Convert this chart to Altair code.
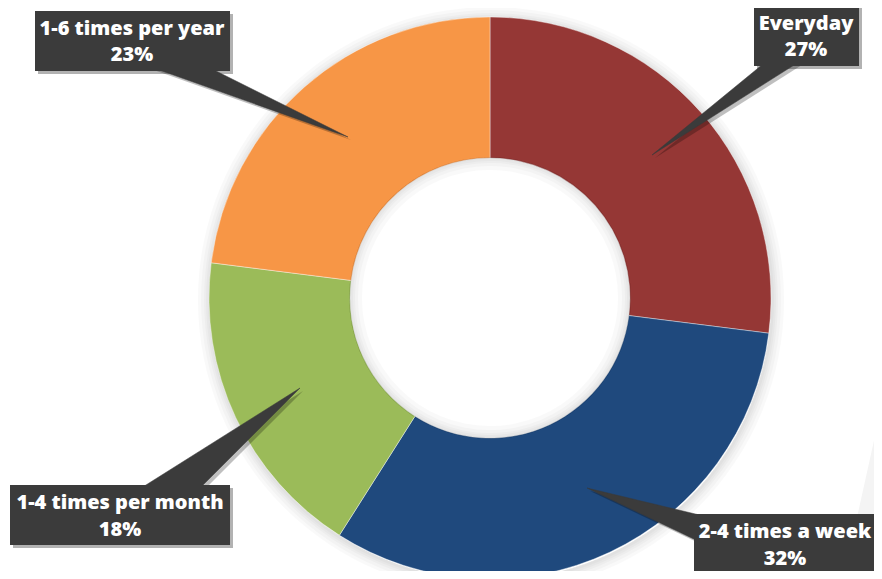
import math
import altair as alt
import pandas as pd

# ---- data ----
categories = ["Everyday", "2-4 times a week", "1-4 times per month", "1-6 times per year"]
shares = [27, 32, 18, 23]
colors = ["#953735", "#1f497d", "#9bbb59", "#f79646"]

# ---- layout (screen pixels of the 882x579 page) ----
OFF = 8
W, H = 866, 563
CX, CY = 490, 298
R_OUT, R_IN = 281, 140
BOX_FILL = "#3b3b3b"

box_layout = {
    "Everyday":            dict(x=754, x2=859, y=5,   y2=66,  tx=806, ty=(24, 50),
                                tri=[(652, 155), (768, 60), (802, 60)]),
    "2-4 times a week":    dict(x=694, x2=884, y=514, y2=590, tx=785, ty=(532, 559),
                                tri=[(587, 488), (712, 518), (700, 542)]),
    "1-4 times per month": dict(x=10,  x2=230, y=485, y2=545, tx=120, ty=(503, 530),
                                tri=[(300, 388), (138, 490), (198, 490)]),
    "1-6 times per year":  dict(x=35,  x2=230, y=11,  y2=71,  tx=132, ty=(29, 55),
                                tri=[(348, 137), (148, 66), (206, 66)]),
}

slices = pd.DataFrame({"category": categories, "share": shares, "idx": list(range(len(categories)))})

boxes = pd.DataFrame([
    dict(category=c, x=b["x"], x2=b["x2"], y=b["y"], y2=b["y2"]) for c, b in box_layout.items()
])
texts = pd.DataFrame([
    dict(category=c, x=b["tx"], y1=b["ty"][0], y2=b["ty"][1],
         line1=c, line2=f"{shares[categories.index(c)]}%")
    for c, b in box_layout.items()
])
tri_rows = []
for c, b in box_layout.items():
    for i, (px, py) in enumerate(b["tri"]):
        tri_rows.append(dict(category=c, o=i, x=px, y=py))
tris = pd.DataFrame(tri_rows)

xs = alt.Scale(domain=[OFF, OFF + W], nice=False, zero=False)
ys = alt.Scale(domain=[OFF, OFF + H], nice=False, zero=False, reverse=True)

def cx(v):
    return alt.X(datum=v, type="quantitative", scale=xs, axis=None)

def cy(v):
    return alt.Y(datum=v, type="quantitative", scale=ys, axis=None)

# faint background shape at lower right
bg = pd.DataFrame({"k": ["a"] * 3, "o": [0, 1, 2], "x": [884, 884, 842], "y": [400, 590, 590]})
bg_layer = alt.Chart(bg).mark_line(fill="#f4f4f4", stroke="#f4f4f4", interpolate="linear-closed").encode(
    x=alt.X("x:Q", scale=xs, axis=None), y=alt.Y("y:Q", scale=ys, axis=None),
    detail="k:N", order="o:Q")

one = pd.DataFrame({"k": [0]})
# soft shadow outside the donut
outer_shadow = [
    alt.Chart(one).mark_arc(theta=0, theta2=6.2832, outerRadius=r, innerRadius=R_OUT - 1,
                            fill="#000000", opacity=0.025).encode(x=cx(CX + 1), y=cy(CY + 2))
    for r in [293, 290, 287, 285, 283]
]
# soft inner shadow inside the hole
inner_shadow = [
    alt.Chart(one).mark_arc(theta=0, theta2=6.2832, outerRadius=R_IN + 1, innerRadius=r,
                            fill="#000000", opacity=0.025).encode(x=cx(CX), y=cy(CY))
    for r in [128, 132, 135, 137, 139]
]

donut = alt.Chart(slices).mark_arc(outerRadius=R_OUT, innerRadius=R_IN, stroke="#ffffff",
                                   strokeWidth=0.4).encode(
    theta=alt.Theta("share:Q", stack=True),
    color=alt.Color("category:N", scale=alt.Scale(domain=categories, range=colors), legend=None),
    order=alt.Order("idx:Q"),
    x=cx(CX), y=cy(CY))

tri_shadow = alt.Chart(tris).transform_calculate(sx="datum.x + 3", sy="datum.y + 3").mark_line(
    fill="#000000", stroke=None, opacity=0.25, interpolate="linear-closed").encode(
    x=alt.X("sx:Q", scale=xs, axis=None), y=alt.Y("sy:Q", scale=ys, axis=None),
    detail="category:N", order="o:Q")

box_shadow = alt.Chart(boxes).transform_calculate(
    sx="datum.x + 3", sx2="datum.x2 + 3", sy="datum.y + 3", sy2="datum.y2 + 3").mark_rect(
    color="#000000", opacity=0.3).encode(
    x=alt.X("sx:Q", scale=xs, axis=None), x2="sx2:Q",
    y=alt.Y("sy:Q", scale=ys, axis=None), y2="sy2:Q")

tri_layer = alt.Chart(tris).mark_line(fill=BOX_FILL, stroke=BOX_FILL, strokeWidth=0.5,
                                      interpolate="linear-closed").encode(
    x=alt.X("x:Q", scale=xs, axis=None), y=alt.Y("y:Q", scale=ys, axis=None),
    detail="category:N", order="o:Q")

box_layer = alt.Chart(boxes).mark_rect(color=BOX_FILL).encode(
    x=alt.X("x:Q", scale=xs, axis=None), x2="x2:Q",
    y=alt.Y("y:Q", scale=ys, axis=None), y2="y2:Q")

tstyle = dict(font="Open Sans", fontWeight=800, fontSize=20, color="#ffffff",
              align="center", baseline="middle")
text1 = alt.Chart(texts).mark_text(**tstyle).encode(
    x=alt.X("x:Q", scale=xs, axis=None), y=alt.Y("y1:Q", scale=ys, axis=None), text="line1:N")
text2 = alt.Chart(texts).mark_text(**tstyle).encode(
    x=alt.X("x:Q", scale=xs, axis=None), y=alt.Y("y2:Q", scale=ys, axis=None), text="line2:N")

chart = alt.layer(bg_layer, *outer_shadow, donut, *inner_shadow, tri_shadow, box_shadow,
                  tri_layer, box_layer, text1, text2).properties(
    width=W, height=H, autosize=alt.AutoSizeParams(type="none"), padding=0,
    background="#ffffff"
).configure_view(stroke=None)

chart.save("out.html", embed_options={"renderer": "svg", "actions": False})
